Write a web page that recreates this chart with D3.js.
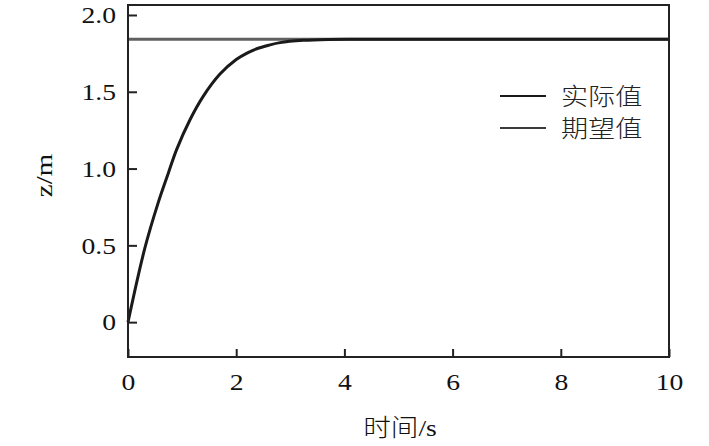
<!DOCTYPE html>
<html>
<head>
<meta charset="utf-8">
<script src="https://cdn.jsdelivr.net/npm/d3@7"></script>
<style>
  body { margin: 0; background: #fff; }
  svg { display: block; }
</style>
</head>
<body>
<div id="chart"></div>
<script>
// dados
const time_s = [0, 0.31, 0.56, 0.745, 0.9, 1.146, 1.39, 1.7, 2.0, 2.2, 2.38, 2.6, 2.81, 3.24, 3.7, 4.2, 5, 6, 7, 8, 9, 10];
const actual_z = [0, 0.48, 0.78, 0.97, 1.125, 1.318, 1.47, 1.615, 1.71, 1.752, 1.78, 1.803, 1.82, 1.835, 1.841, 1.842, 1.842, 1.842, 1.842, 1.842, 1.842, 1.842];
const desired_z = 1.842;
const xTicks = [0, 2, 4, 6, 8, 10];
const yTicks = [0, 0.5, 1.0, 1.5, 2.0];
const yTickLabels = ['0', '0.5', '1.0', '1.5', '2.0'];
const legendLabels = ['实际值', '期望值'];

const width = 709, height = 446;
const margin = { top: 5, right: 40, bottom: 89, left: 128 };
const w = width - margin.left - margin.right;
const h = height - margin.top - margin.bottom;

const serif = "'Liberation Serif', 'Times New Roman', 'DejaVu Serif', serif";
const cjk = "'Noto Sans CJK SC', sans-serif";

const svg = d3.select('#chart').append('svg')
    .attr('width', width)
    .attr('height', height)
    .attr('font-family', serif);

const g = svg.append('g')
    .attr('transform', `translate(${margin.left},${margin.top})`);

const x = d3.scaleLinear().domain([0, 10]).range([0, w]);
const y = d3.scaleLinear().domain([-0.227, 2.065]).range([h, 0]);

// o texto do original está esticado na horizontal
function stretch(sel, k) {
    sel.each(function () {
        const L = this.getComputedTextLength();
        d3.select(this).attr('textLength', L * k).attr('lengthAdjust', 'spacingAndGlyphs');
    });
}

//EIXO X
const xAxis = g.append('g')
    .attr('transform', `translate(0,${h})`)
    .call(d3.axisBottom(x).tickValues(xTicks).tickSize(-8).tickPadding(16).tickFormat(d3.format('d')))
    .attr('font-family', serif)
    .attr('font-size', 24);
xAxis.select('.domain').remove();
xAxis.selectAll('line').attr('stroke', '#222').attr('stroke-width', 2);
xAxis.selectAll('text').attr('fill', '#111').call(stretch, 1.15);

//EIXO Y
const yAxis = g.append('g')
    .call(d3.axisLeft(y).tickValues(yTicks).tickSize(-9).tickPadding(12).tickFormat((d, i) => yTickLabels[i]))
    .attr('font-family', serif)
    .attr('font-size', 24);
yAxis.select('.domain').remove();
yAxis.selectAll('line').attr('stroke', '#222').attr('stroke-width', 2);
yAxis.selectAll('text').attr('fill', '#111').call(stretch, 1.15);

//LINHA DO VALOR DESEJADO
g.append('line')
    .attr('x1', x(0)).attr('x2', x(10))
    .attr('y1', y(desired_z)).attr('y2', y(desired_z))
    .attr('stroke', '#606060')
    .attr('stroke-width', 3);

//CURVA DO VALOR REAL
const line = d3.line()
    .x((d, i) => x(time_s[i]))
    .y(d => y(d))
    .curve(d3.curveCatmullRom.alpha(0.5));
g.append('path')
    .datum(actual_z)
    .attr('d', line)
    .attr('fill', 'none')
    .attr('stroke', '#1a1a1a')
    .attr('stroke-width', 3);

//MOLDURA
g.append('rect')
    .attr('x', 0).attr('y', 0)
    .attr('width', w).attr('height', h)
    .attr('fill', 'none')
    .attr('stroke', '#222')
    .attr('stroke-width', 2);

//LEGENDA
const legend = g.append('g').attr('transform', `translate(${500 - margin.left},${96 - margin.top})`);
const legendColors = ['#1a1a1a', '#3a3a3a'];
legendLabels.forEach((lbl, i) => {
    legend.append('line')
        .attr('x1', 0).attr('x2', 46)
        .attr('y1', i * 32).attr('y2', i * 32)
        .attr('stroke', legendColors[i])
        .attr('stroke-width', 2);
    legend.append('text')
        .attr('x', 61).attr('y', i * 32)
        .attr('dy', '0.36em')
        .attr('font-family', cjk)
        .attr('font-size', 24)
        .attr('font-weight', 300)
        .attr('fill', '#222')
        .text(lbl)
        .call(stretch, 1.13);
});

//TÍTULOS DOS EIXOS
svg.append('text')
    .attr('transform', `translate(52,${margin.top + y(1.0) + 7}) rotate(-90)`)
    .attr('text-anchor', 'middle')
    .attr('font-family', serif)
    .attr('font-size', 24)
    .attr('fill', '#111')
    .text('z/m')
    .call(stretch, 1.2);

svg.append('text')
    .attr('x', 400).attr('y', 436)
    .attr('text-anchor', 'middle')
    .attr('fill', '#111')
    .attr('font-size', 24)
    .call(t => {
        t.append('tspan').attr('font-family', cjk).attr('font-weight', 300).text('时间');
        t.append('tspan').attr('font-family', serif).text('/s');
    })
    .call(stretch, 1.15);
</script>
</body>
</html>
